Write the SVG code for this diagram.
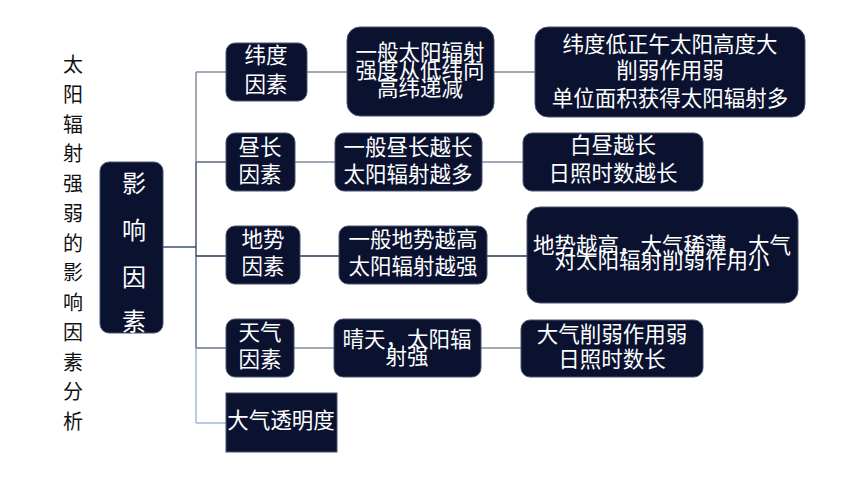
<svg xmlns="http://www.w3.org/2000/svg" width="860" height="484" viewBox="0 0 860 484">
<style>
.n{fill:#0a1230;stroke:#4a5470;stroke-width:1}
.t{fill:#ffffff;font-family:"Noto Sans CJK SC","Noto Sans",sans-serif;font-size:21.5px;text-anchor:middle;dominant-baseline:central}
.title{fill:#111111;font-family:"Noto Sans CJK SC","Noto Sans",sans-serif;font-size:20px;text-anchor:middle;dominant-baseline:central}
.c{fill:none;stroke-width:1.5}
</style>
<rect width="860" height="484" fill="#ffffff"/>
<g id="title">
<text class="title" x="73" y="63">太</text>
<text class="title" x="73" y="93">阳</text>
<text class="title" x="73" y="123">辐</text>
<text class="title" x="73" y="152">射</text>
<text class="title" x="73" y="182">强</text>
<text class="title" x="73" y="212">弱</text>
<text class="title" x="73" y="242">的</text>
<text class="title" x="73" y="271">影</text>
<text class="title" x="73" y="301">响</text>
<text class="title" x="73" y="331">因</text>
<text class="title" x="73" y="361">素</text>
<text class="title" x="73" y="390">分</text>
<text class="title" x="73" y="420">析</text>
</g>
<g id="connectors">
<path class="c" stroke="#3c4e78" d="M163 247H196"/>
<path class="c" stroke="#868c9c" d="M196 72V162"/>
<path class="c" stroke="#4a5270" d="M196 162V256"/>
<path class="c" stroke="#5a6e9c" d="M196 256V348"/>
<path class="c" stroke="#a4b6da" d="M196 348V423"/>
<path class="c" stroke="#868c9c" d="M196 72H226"/>
<path class="c" stroke="#5e667c" d="M196 162H226"/>
<path class="c" stroke="#2a3452" d="M196 256H226"/>
<path class="c" stroke="#6a7490" d="M196 348H226"/>
<path class="c" stroke="#a4b6da" d="M196 423H226"/>
<path class="c" stroke="#868c9c" d="M307 72H347M494 72H535"/>
<path class="c" stroke="#868c9c" d="M295 162H335M482 162H523"/>
<path class="c" stroke="#2a3452" d="M300 256H339M487 256H527"/>
<path class="c" stroke="#868c9c" d="M294 348H334M481 348H521"/>
</g>
<g id="root">
<rect class="n" x="100" y="162" width="63" height="171" rx="9"/>
<text class="t" style="font-size:24px" x="134" y="181">影</text>
<text class="t" style="font-size:24px" x="134" y="228">响</text>
<text class="t" style="font-size:24px" x="134" y="275">因</text>
<text class="t" style="font-size:24px" x="134" y="319">素</text>
</g>
<g id="n-latitude">
<rect class="n" x="226" y="43" width="81" height="58" rx="9"/>
<text class="t" x="266" y="53">纬度</text>
<text class="t" x="266" y="82">因素</text>
</g>
<g id="n-daylength">
<rect class="n" x="226" y="133" width="69" height="58" rx="9"/>
<text class="t" x="260" y="145">昼长</text>
<text class="t" x="260" y="172">因素</text>
</g>
<g id="n-terrain">
<rect class="n" x="226" y="226" width="74" height="58" rx="9"/>
<text class="t" x="263" y="237">地势</text>
<text class="t" x="263" y="264">因素</text>
</g>
<g id="n-weather">
<rect class="n" x="226" y="319" width="68" height="58" rx="9"/>
<text class="t" x="260" y="330">天气</text>
<text class="t" x="260" y="357">因素</text>
</g>
<g id="n-transparency">
<rect class="n" x="226" y="393" width="111" height="59"/>
<text class="t" x="281" y="418">大气透明度</text>
</g>
<g id="n-lat2">
<rect class="n" x="347" y="27" width="147" height="89" rx="13"/>
<text class="t" x="420" y="50">一般太阳辐射</text>
<text class="t" x="420" y="68">强度从低纬向</text>
<text class="t" x="420" y="86">高纬递减</text>
</g>
<g id="n-day2">
<rect class="n" x="335" y="133" width="147" height="58" rx="9"/>
<text class="t" x="408" y="145">一般昼长越长</text>
<text class="t" x="408" y="172">太阳辐射越多</text>
</g>
<g id="n-terrain2">
<rect class="n" x="339" y="226" width="148" height="58" rx="9"/>
<text class="t" x="413" y="237">一般地势越高</text>
<text class="t" x="413" y="264">太阳辐射越强</text>
</g>
<g id="n-weather2">
<rect class="n" x="334" y="319" width="147" height="58" rx="9"/>
<text class="t" x="407" y="337">晴天，太阳辐</text>
<text class="t" x="407" y="354">射强</text>
</g>
<g id="n-lat3">
<rect class="n" x="535" y="27" width="270" height="90" rx="13"/>
<text class="t" x="670" y="42">纬度低正午太阳高度大</text>
<text class="t" x="670" y="68">削弱作用弱</text>
<text class="t" x="670" y="96">单位面积获得太阳辐射多</text>
</g>
<g id="n-day3">
<rect class="n" x="523" y="133" width="180" height="58" rx="9"/>
<text class="t" x="613" y="143">白昼越长</text>
<text class="t" x="613" y="171">日照时数越长</text>
</g>
<g id="n-terrain3">
<rect class="n" x="527" y="207" width="271" height="96" rx="13"/>
<text class="t" x="662" y="243">地势越高，大气稀薄，大气</text>
<text class="t" x="662" y="258">对太阳辐射削弱作用小</text>
</g>
<g id="n-weather3">
<rect class="n" x="521" y="320" width="182" height="57" rx="9"/>
<text class="t" x="612" y="332">大气削弱作用弱</text>
<text class="t" x="612" y="357">日照时数长</text>
</g>
</svg>
